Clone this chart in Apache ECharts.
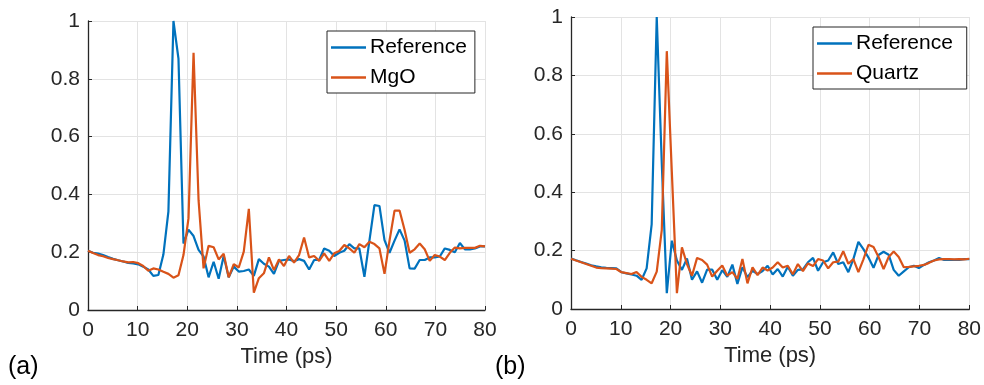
<!DOCTYPE html>
<html>
<head>
<meta charset="utf-8">
<script src="https://cdn.jsdelivr.net/npm/echarts@6/dist/echarts.min.js"></script>
<style>html,body{margin:0;padding:0;background:#fff}#c{width:984px;height:385px}</style>
</head>
<body>
<div id="c"></div>
<script>
// Time samples (ps)
const times = [0,1.01,2.03,3.04,4.05,5.06,6.08,7.09,8.10,9.11,10.13,11.14,12.15,13.16,14.18,15.19,16.20,17.22,18.23,19.24,20.25,21.27,22.28,23.29,24.30,25.32,26.33,27.34,28.35,29.37,30.38,31.39,32.41,33.42,34.43,35.44,36.46,37.47,38.48,39.49,40.51,41.52,42.53,43.54,44.56,45.57,46.58,47.59,48.61,49.62,50.63,51.65,52.66,53.67,54.68,55.70,56.71,57.72,58.73,59.75,60.76,61.77,62.78,63.80,64.81,65.82,66.84,67.85,68.86,69.87,70.89,71.90,72.91,73.92,74.94,75.95,76.96,77.97,78.99,80.00];

// Panel (a)
const refA = [0.205,0.198,0.195,0.19,0.183,0.177,0.172,0.168,0.163,0.161,0.158,0.15,0.14,0.118,0.121,0.192,0.34,1.0,0.87,0.23,0.278,0.256,0.208,0.185,0.113,0.167,0.108,0.187,0.113,0.15,0.133,0.135,0.14,0.118,0.176,0.16,0.15,0.125,0.17,0.173,0.175,0.169,0.176,0.17,0.14,0.173,0.173,0.213,0.205,0.187,0.198,0.205,0.228,0.213,0.213,0.115,0.24,0.363,0.36,0.242,0.198,0.24,0.279,0.24,0.144,0.143,0.173,0.173,0.182,0.182,0.185,0.213,0.208,0.2,0.232,0.21,0.21,0.213,0.22,0.22];
const mgo = [0.205,0.197,0.19,0.186,0.18,0.176,0.172,0.168,0.165,0.166,0.162,0.152,0.136,0.144,0.14,0.132,0.125,0.112,0.12,0.19,0.317,0.89,0.38,0.144,0.222,0.217,0.175,0.195,0.113,0.159,0.147,0.202,0.35,0.06,0.11,0.127,0.182,0.138,0.175,0.152,0.187,0.164,0.19,0.251,0.182,0.187,0.17,0.196,0.17,0.196,0.204,0.225,0.213,0.198,0.228,0.217,0.236,0.228,0.213,0.125,0.24,0.344,0.344,0.277,0.198,0.21,0.23,0.21,0.17,0.19,0.185,0.173,0.198,0.216,0.213,0.215,0.215,0.215,0.222,0.22];

// Panel (b)
const refB = [0.173,0.167,0.161,0.156,0.15,0.146,0.143,0.141,0.14,0.139,0.126,0.122,0.118,0.114,0.1,0.139,0.29,1.0,0.5,0.054,0.234,0.166,0.134,0.173,0.1,0.129,0.09,0.135,0.135,0.1,0.133,0.11,0.152,0.086,0.143,0.109,0.131,0.12,0.13,0.148,0.118,0.137,0.111,0.145,0.114,0.134,0.136,0.16,0.175,0.131,0.16,0.166,0.194,0.154,0.16,0.126,0.171,0.23,0.205,0.176,0.141,0.185,0.196,0.186,0.134,0.114,0.129,0.143,0.148,0.14,0.151,0.16,0.166,0.175,0.168,0.168,0.168,0.168,0.171,0.171];
const quartz = [0.172,0.166,0.16,0.154,0.148,0.142,0.14,0.139,0.138,0.137,0.126,0.123,0.12,0.127,0.11,0.1,0.088,0.128,0.27,0.883,0.47,0.054,0.211,0.154,0.114,0.175,0.168,0.152,0.111,0.131,0.149,0.114,0.126,0.103,0.171,0.088,0.143,0.116,0.142,0.132,0.142,0.16,0.142,0.148,0.119,0.154,0.13,0.156,0.147,0.171,0.166,0.139,0.16,0.162,0.198,0.155,0.171,0.126,0.17,0.22,0.212,0.178,0.137,0.178,0.197,0.178,0.143,0.144,0.146,0.148,0.151,0.158,0.166,0.17,0.171,0.171,0.17,0.171,0.17,0.172];

const xTicks = [0,10,20,30,40,50,60,70,80];
const yTicks = [0,0.2,0.4,0.6,0.8,1];
const labelA = '(a)', labelB = '(b)';
const xName = 'Time (ps)';

const BLUE = '#0072BD', ORANGE = '#D95319', AX = '#262626', GRID = '#e3e3e3';
const FONT = 'Liberation Sans, Arial, sans-serif';

const pairs = (ys) => times.map((t, i) => [t, ys[i]]);

function xAxis(idx) {
  return {
    gridIndex: idx, type: 'value', min: xTicks[0], max: xTicks[xTicks.length-1], interval: xTicks[1]-xTicks[0],
    name: xName, nameLocation: 'middle', nameGap: 33,
    nameTextStyle: { fontFamily: FONT, fontSize: 22, color: AX },
    axisLine: { show: true, lineStyle: { color: AX, width: 1.3 } },
    axisTick: { show: true, inside: true, length: 4, lineStyle: { color: AX } },
    axisLabel: { fontFamily: FONT, fontSize: 21, color: AX, margin: 10 },
    splitLine: { show: true, lineStyle: { color: GRID, width: 1 } }
  };
}
function yAxis(idx) {
  return {
    gridIndex: idx, type: 'value', min: yTicks[0], max: yTicks[yTicks.length-1], interval: yTicks[1]-yTicks[0],
    axisLine: { show: true, lineStyle: { color: AX, width: 1.3 } },
    axisTick: { show: true, inside: true, length: 4, lineStyle: { color: AX } },
    axisLabel: { fontFamily: FONT, fontSize: 21, color: AX, margin: 8 },
    splitLine: { show: true, lineStyle: { color: GRID, width: 1 } }
  };
}
function line(name, ys, idx, color) {
  return {
    name, type: 'line', xAxisIndex: idx, yAxisIndex: idx, data: pairs(ys),
    showSymbol: false, symbol: 'none', animation: false,
    lineStyle: { color, width: 2.2 }, itemStyle: { color }
  };
}
function legend(names, left, top) {
  return {
    data: names, orient: 'vertical', left, top,
    icon: 'rect', itemWidth: 35, itemHeight: 2.5, itemGap: 9,
    backgroundColor: '#fff', borderColor: AX, borderWidth: 1,
    padding: [6, 8, 5, 4],
    textStyle: { fontFamily: FONT, fontSize: 21, color: '#000', padding: [0, 0, 0, -1], lineHeight: 20 }
  };
}

const chart = echarts.init(document.getElementById('c'), null, { renderer: 'canvas' });
chart.setOption({
  backgroundColor: '#fff',
  animation: false,
  grid: [
    { left: 88, top: 21, width: 397, height: 289 },
    { left: 571, top: 17, width: 399, height: 292 }
  ],
  xAxis: [xAxis(0), xAxis(1)],
  yAxis: [yAxis(0), yAxis(1)],
  legend: [
    legend(['Reference', 'MgO'], 327, 31),
    legend([{name:'Reference '}, {name:'Quartz'}].map(d=>d.name), 813, 27)
  ],
  series: [
    line('Reference', refA, 0, BLUE),
    line('MgO', mgo, 0, ORANGE),
    line('Reference ', refB, 1, BLUE),
    line('Quartz', quartz, 1, ORANGE)
  ],
  graphic: [
    { type: 'text', left: 8, top: 355, style: { text: labelA, font: '25px ' + FONT, fill: '#000' } },
    { type: 'text', left: 495, top: 355, style: { text: labelB, font: '25px ' + FONT, fill: '#000' } }
  ]
});
</script>
</body>
</html>
